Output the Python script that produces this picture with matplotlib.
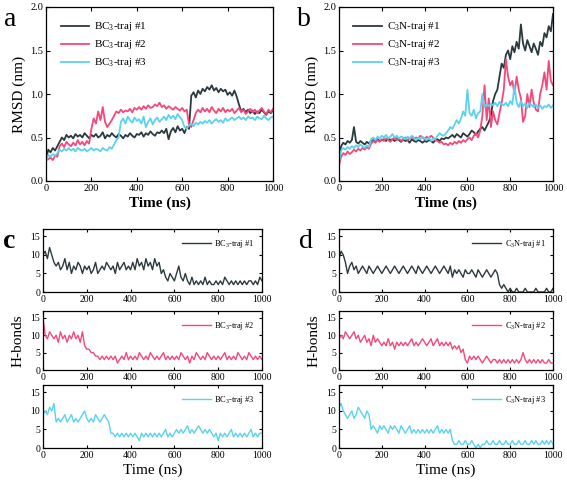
import numpy as np
import matplotlib
matplotlib.use("Agg")
import matplotlib.pyplot as plt

plt.rcParams['font.family'] = ['Liberation Serif', 'DejaVu Serif']
plt.rcParams['mathtext.fontset'] = 'custom'
plt.rcParams['mathtext.rm'] = 'Liberation Serif'
plt.rcParams['mathtext.it'] = 'Liberation Serif:italic'

time_ns = np.arange(0, 1001, 10)

bc3_rmsd_1 = [0.25,
 0.36,0.33,0.38,0.35,0.40,
 0.45,0.50,0.47,0.53,0.50,
 0.52,0.49,0.54,0.51,0.53,0.50,0.55,0.52,0.49,0.53,
 0.51,0.54,0.50,0.52,0.56,0.49,0.53,0.51,0.55,0.52,
 0.50,0.54,0.52,0.49,0.53,0.51,0.55,0.52,0.50,0.54,
 0.53,0.56,0.51,0.55,0.53,0.57,0.54,0.52,0.56,0.55,
 0.58,0.55,0.60,0.48,0.57,0.61,0.56,0.63,0.58,0.60,
 0.55,0.62,0.60,0.98,1.02,0.96,1.04,1.00,1.06,1.03,
 1.08,1.05,1.10,1.04,1.07,1.02,1.06,1.03,1.05,0.99,
 1.02,0.98,1.04,0.97,0.88,0.80,0.83,0.79,0.82,0.78,
 0.81,0.77,0.80,0.78,0.82,0.79,0.76,0.80,0.78,0.81]
bc3_rmsd_2 = [0.24,
 0.25,0.27,0.24,0.29,0.28,
 0.40,0.43,0.39,0.45,0.42,
 0.40,0.44,0.41,0.47,0.42,0.45,0.41,0.46,0.43,0.60,
 0.72,0.66,0.80,0.70,0.85,0.68,0.62,0.66,0.70,0.75,
 0.80,0.78,0.82,0.79,0.81,0.80,0.83,0.79,0.84,0.82,
 0.85,0.82,0.86,0.83,0.87,0.84,0.85,0.88,0.86,0.90,
 0.85,0.87,0.83,0.86,0.84,0.82,0.85,0.83,0.81,0.84,
 0.80,0.82,0.65,0.62,0.70,0.78,0.82,0.79,0.84,0.80,
 0.83,0.79,0.85,0.81,0.78,0.83,0.80,0.84,0.79,0.82,
 0.80,0.83,0.78,0.81,0.84,0.79,0.82,0.77,0.80,0.83,
 0.79,0.82,0.78,0.81,0.84,0.80,0.77,0.82,0.79,0.83]
bc3_rmsd_3 = [0.22,
 0.30,0.28,0.31,0.29,0.32,
 0.36,0.34,0.37,0.35,0.38,
 0.35,0.37,0.34,0.38,0.36,0.35,0.37,0.34,0.36,0.38,
 0.35,0.37,0.36,0.34,0.38,0.36,0.35,0.39,0.37,0.42,
 0.47,0.50,0.68,0.72,0.66,0.74,0.70,0.67,0.73,0.69,
 0.71,0.66,0.74,0.62,0.68,0.72,0.65,0.70,0.73,0.68,
 0.71,0.74,0.70,0.76,0.72,0.75,0.71,0.77,0.73,0.70,
 0.62,0.60,0.64,0.66,0.63,0.67,0.65,0.68,0.66,0.69,
 0.67,0.70,0.66,0.69,0.71,0.68,0.70,0.67,0.72,0.69,
 0.71,0.73,0.70,0.72,0.74,0.71,0.73,0.70,0.74,0.72,
 0.73,0.70,0.74,0.72,0.71,0.75,0.72,0.70,0.73,0.74]

c3n_rmsd_1 = [0.28,
 0.40,0.44,0.42,0.46,0.44,
 0.47,0.62,0.45,0.43,0.46,
 0.44,0.42,0.45,0.43,0.46,0.47,0.45,0.48,0.46,0.47,
 0.48,0.46,0.49,0.47,0.48,0.46,0.49,0.47,0.45,0.48,
 0.46,0.47,0.44,0.48,0.46,0.45,0.47,0.46,0.44,0.46,
 0.45,0.47,0.46,0.44,0.47,0.48,0.46,0.49,0.48,0.50,
 0.49,0.51,0.53,0.50,0.54,0.52,0.50,0.55,0.53,0.51,
 0.54,0.58,0.56,0.53,0.57,0.60,0.62,0.58,0.63,0.68,
 0.75,0.92,1.00,1.05,1.20,1.35,1.30,1.45,1.50,1.40,
 1.55,1.48,1.60,1.52,1.80,1.58,1.50,1.62,1.55,1.48,
 1.58,1.52,1.45,1.60,1.55,1.70,1.65,1.78,1.72,1.92]
c3n_rmsd_2 = [0.18,
 0.28,0.32,0.30,0.34,0.31,
 0.33,0.36,0.34,0.37,0.35,
 0.38,0.36,0.39,0.37,0.43,0.46,0.44,0.47,0.45,0.48,
 0.46,0.49,0.47,0.45,0.48,0.50,0.47,0.49,0.46,0.48,
 0.50,0.47,0.49,0.51,0.48,0.50,0.49,0.52,0.50,0.48,
 0.51,0.49,0.52,0.50,0.47,0.46,0.44,0.45,0.42,0.43,
 0.41,0.44,0.42,0.45,0.43,0.46,0.44,0.47,0.45,0.48,
 0.50,0.47,0.52,0.55,0.50,0.58,0.75,1.10,0.70,0.95,
 0.62,0.80,0.70,0.65,0.78,0.90,1.05,1.40,1.20,1.10,
 1.15,1.00,1.20,1.05,0.95,0.68,0.75,1.00,0.85,1.05,
 0.90,0.82,0.80,1.00,1.10,1.25,1.05,1.38,1.15,1.10]
c3n_rmsd_3 = [0.22,
 0.35,0.38,0.36,0.39,0.37,
 0.40,0.38,0.41,0.39,0.42,
 0.40,0.38,0.41,0.39,0.48,0.50,0.47,0.51,0.49,0.52,
 0.50,0.53,0.49,0.51,0.54,0.50,0.52,0.49,0.51,0.50,
 0.48,0.51,0.49,0.52,0.50,0.47,0.50,0.48,0.51,0.49,
 0.47,0.50,0.46,0.49,0.48,0.52,0.55,0.53,0.52,0.55,
 0.58,0.62,0.60,0.65,0.70,0.66,0.72,0.80,0.75,1.05,
 0.78,0.75,0.82,0.72,0.78,0.80,1.00,0.85,0.88,0.86,
 0.89,0.87,0.90,0.86,0.91,0.88,0.87,0.90,0.86,0.92,
 0.88,1.10,0.90,0.85,0.92,0.86,0.89,0.84,0.90,0.87,
 0.85,0.88,0.84,0.87,0.83,0.86,0.85,0.88,0.84,0.87]

bc3_hb_1 = [10, 11,9,12,10,8, 7,8,6,7,9,
 6,8,5,7,6,8,7,5,7,6, 7,5,6,8,5,6,7,6,8,7, 6,7,5,8,6,7,8,6,7,6,
 8,6,9,7,8,6,9,7,8,6, 9,7,8,5,6,4,3,5,4,3, 5,7,4,3,5,3,2,4,2,3,
 2,3,2,4,2,3,2,2,3,2, 3,2,4,3,2,3,2,3,2,3, 2,3,2,3,3,2,3,2,4,3]
bc3_hb_2 = [15, 10,9,11,10,9, 10,8,11,9,10,
 8,10,9,11,9,10,8,11,7,6, 6,5,5,4,4,3,4,3,4,3, 4,3,4,2,3,4,3,5,3,4,
 3,4,3,5,4,3,4,3,5,4, 3,4,3,4,5,3,4,3,4,3, 4,3,5,4,3,4,2,4,3,5,
 4,3,4,3,5,4,3,4,3,4, 3,4,5,3,4,3,4,3,5,4, 3,4,3,5,4,3,4,3,4,3]
bc3_hb_3 = [9, 10,9,11,10,12, 7,8,7,8,9,
 7,8,9,7,8,7,8,9,10,8, 7,8,7,9,8,7,8,9,8,7, 4,4,3,4,3,4,3,4,3,4,
 3,4,3,2,4,3,4,3,4,3, 4,3,4,3,4,5,3,4,3,4, 5,4,5,4,5,6,4,5,4,5,
 6,5,4,5,4,5,4,3,4,2, 4,3,4,3,4,5,3,4,3,4, 3,4,3,4,5,3,4,3,4,4]

c3n_hb_1 = [9, 11,10,8,5,7, 8,6,7,5,6,
 7,6,5,7,6,5,6,7,6,5, 6,7,6,5,6,7,6,5,6,7, 6,5,6,7,6,5,7,6,5,6,
 7,6,5,6,7,6,5,6,7,6, 5,7,4,6,5,6,5,4,6,5, 5,6,5,4,6,5,4,5,6,5,
 4,5,6,5,2,1,2,1,0,1, 0,0,1,0,0,0,1,0,0,0, 0,1,0,0,0,0,1,0,0,1]
c3n_hb_2 = [9, 10,9,11,10,9, 10,11,9,10,8,
 9,10,8,9,7,10,8,9,8,7, 8,7,9,7,8,6,8,7,8,7, 8,7,8,9,7,8,7,8,9,8,
 7,8,9,7,8,9,7,8,7,8, 7,8,6,7,6,7,5,6,3,2, 4,3,4,3,4,3,2,3,4,3,
 2,3,3,2,3,2,3,2,3,2, 3,2,3,2,3,5,3,2,3,2, 3,2,3,2,3,2,2,3,2,2]
c3n_hb_3 = [11, 12,10,9,8,9, 10,8,9,11,10,
 9,8,10,9,5,6,5,4,6,5, 6,5,4,6,5,6,5,4,6,5, 4,5,6,4,5,4,5,4,5,4,
 5,4,5,4,5,6,4,5,4,5, 4,5,2,1,1,2,1,1,2,1, 1,2,1,0,1,0,1,1,2,1,
 1,2,1,1,2,1,1,2,1,1, 2,1,1,2,1,1,2,1,1,2, 1,2,1,1,2,1,2,1,2,1]

colors = ['#2b3a3e', '#f5487a', '#5ad2f0']
bc3_labels = ['BC$_3$-traj #1', 'BC$_3$-traj #2', 'BC$_3$-traj #3']
c3n_labels = ['C$_3$N-traj #1', 'C$_3$N-traj #2', 'C$_3$N-traj #3']

W, H = 567, 482
fig = plt.figure(figsize=(W/100, H/100), dpi=100)

def rect(l, t, r, b):
    return [l/W, 1-b/H, (r-l)/W, (b-t)/H]

def style(ax, fs):
    ax.tick_params(direction='in', top=True, right=True, labelsize=fs, length=3, width=0.8, pad=2)
    for s in ax.spines.values():
        s.set_linewidth(0.9)

# RMSD panels
for (l, r), series, labels, letter in [((46, 273), [bc3_rmsd_1, bc3_rmsd_2, bc3_rmsd_3], bc3_labels, 'a'),
                                      ((339, 553), [c3n_rmsd_1, c3n_rmsd_2, c3n_rmsd_3], c3n_labels, 'b')]:
    ax = fig.add_axes(rect(l, 7, r, 181))
    for y, c, lab in zip(series, colors, labels):
        ax.plot(time_ns, y, color=c, lw=1.3, label=lab)
    ax.set_xlim(0, 1000)
    ax.set_ylim(0, 2.0)
    ax.set_xticks([0, 200, 400, 600, 800, 1000])
    ax.set_yticks([0.0, 0.5, 1.0, 1.5, 2.0])
    ax.set_yticklabels(['0.0', '0.5', '1.0', '1.5', '2.0'])
    style(ax, 7.5)
    ax.set_ylabel('RMSD (nm)', fontsize=11, labelpad=3)
    ax.set_xlabel('Time (ns)', fontsize=11, fontweight='bold', labelpad=3)
    ax.legend(loc='upper left', bbox_to_anchor=(0.02, 0.98), frameon=False, fontsize=8,
              handlelength=2.6, handletextpad=0.4, labelspacing=0.45)
    fig.text((l - 42)/W, 1 - 20/H, letter, fontsize=20, va='center', ha='left')

# H-bond panels
rows = [(229, 292), (311, 370), (385, 448)]
for (l, r), series, labels, letter in [((43, 262), [bc3_hb_1, bc3_hb_2, bc3_hb_3], bc3_labels, 'c'),
                                      ((339, 553), [c3n_hb_1, c3n_hb_2, c3n_hb_3], c3n_labels, 'd')]:
    for i, ((t, b), y, c, lab) in enumerate(zip(rows, series, colors, labels)):
        ax = fig.add_axes(rect(l, t, r, b))
        ax.plot(time_ns, y, color=c, lw=1.0, label=lab)
        ax.set_xlim(0, 1000)
        ax.set_ylim(0, 17)
        ax.set_xticks([0, 200, 400, 600, 800, 1000])
        ax.set_yticks([0, 5, 10, 15])
        style(ax, 7)
        ax.tick_params(length=2.5)
        ax.legend(loc='upper right', bbox_to_anchor=(1.0, 0.97), frameon=False, fontsize=6,
                  handlelength=3.5, handletextpad=0.4)
        if i == 1:
            ax.set_ylabel('H-bonds', fontsize=11, labelpad=4)
        if i == 2:
            ax.set_xlabel('Time (ns)', fontsize=11, labelpad=3)
    fig.text((l - 40)/W, 1 - 242/H, letter, fontsize=20, va='center', ha='left',
             fontweight='bold' if letter == 'c' else 'normal')

fig.savefig('out.png', dpi=100)
